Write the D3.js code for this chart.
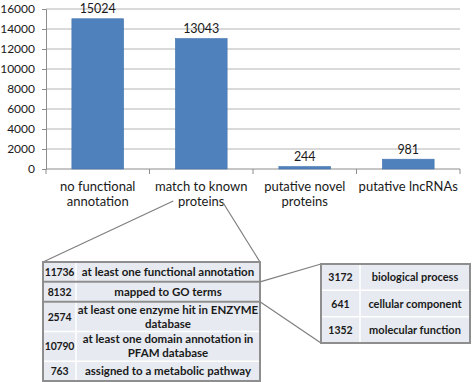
<!DOCTYPE html>
<html>
<head>
<meta charset="utf-8">
<script src="https://cdn.jsdelivr.net/npm/d3@7"></script>
<style>
  body { margin: 0; background: #fff; }
  svg text { font-family: Lato, "Open Sans", sans-serif; fill: #1a1a1a; }
</style>
</head>
<body>
<div id="chart"></div>
<script>
// Bar chart data
const categories = [["no functional", "annotation"], ["match to known", "proteins"], ["putative novel", "proteins"], ["putative lncRNAs"]];
const counts = [15024, 13043, 244, 981];
const yTicks = [0, 2000, 4000, 6000, 8000, 10000, 12000, 14000, 16000];

// Annotation breakdown of "match to known proteins"
const annotCounts = [11736, 8132, 2574, 10790, 763];
const annotLabels = [["at least one functional annotation"], ["mapped to GO terms"], ["at least one enzyme hit in ENZYME", "database"], ["at least one domain annotation in", "PFAM database"], ["assigned to a metabolic pathway"]];

// GO terms breakdown
const goCounts = [3172, 641, 1352];
const goLabels = ["biological process", "cellular component", "molecular function"];

const W = 472, H = 382;
const svg = d3.select("#chart").append("svg")
    .attr("width", W)
    .attr("height", H);

// Scales
const x = d3.scaleBand().domain(d3.range(categories.length)).range([46, 460]).paddingInner(0.5).paddingOuter(0.25);
const y = d3.scaleLinear().domain([0, 16000]).range([169, 9]);

// Gridlines
svg.append("g").selectAll("line")
    .data(yTicks.slice(1))
    .join("line")
    .attr("x1", 46).attr("x2", 460)
    .attr("y1", d => y(d)).attr("y2", d => y(d))
    .attr("stroke", "#b4b4b4").attr("stroke-width", 1);

// Y axis
const yAxis = svg.append("g")
    .attr("transform", "translate(46,0)")
    .call(d3.axisLeft(y).tickValues(yTicks).tickSize(4).tickPadding(7).tickFormat(d3.format("d")));
yAxis.select(".domain").attr("stroke", "#8c8c8c");
yAxis.selectAll(".tick line").attr("stroke", "#8c8c8c");
yAxis.selectAll("text").style("font-size", "12px").attr("fill", "#1a1a1a");

// X axis with ticks at category boundaries
const step = x.step();
const xAxis = svg.append("g");
xAxis.append("line")
    .attr("x1", 46).attr("x2", 460).attr("y1", y(0)).attr("y2", y(0))
    .attr("stroke", "#8c8c8c");
xAxis.selectAll("line.tk")
    .data(d3.range(categories.length + 1))
    .join("line").attr("class", "tk")
    .attr("x1", i => 46 + i * step).attr("x2", i => 46 + i * step)
    .attr("y1", y(0)).attr("y2", y(0) + 5)
    .attr("stroke", "#8c8c8c");

// Bars
svg.append("g").selectAll("rect")
    .data(counts)
    .join("rect")
    .attr("x", (d, i) => x(i))
    .attr("y", d => y(d))
    .attr("width", x.bandwidth())
    .attr("height", d => y(0) - y(d))
    .attr("fill", "#4f81bd")
    .attr("stroke", "#4372ad").attr("stroke-width", 0.6);

// Value labels
svg.append("g").selectAll("text")
    .data(counts)
    .join("text")
    .attr("x", (d, i) => x(i) + x.bandwidth() / 2)
    .attr("y", d => y(d) - 5.5)
    .attr("text-anchor", "middle")
    .style("font-size", "12.5px")
    .text(d => d);

// Category labels
const catG = svg.append("g").selectAll("text")
    .data(categories)
    .join("text")
    .attr("text-anchor", "middle")
    .style("font-size", "13px");
catG.selectAll("tspan")
    .data((d, i) => d.map(t => ({ t, i })))
    .join("tspan")
    .attr("x", d => x(d.i) + x.bandwidth() / 2)
    .attr("y", (d, j) => 191 + j * 15)
    .text(d => d.t);

// Table 1: annotations of "match to known proteins"
const t1 = { x0: 43, x1: 260, col: 76, y0: 262, y1: 381 };
const units = annotLabels.map(l => l.length === 1 ? 1 : 1.5);
const edges = [0];
units.forEach(u => edges.push(edges[edges.length - 1] + u));
const ry = d3.scaleLinear().domain([0, d3.sum(units)]).range([t1.y0, t1.y1]);

// connector lines from the category label to table 1
const cx = x(1) + x.bandwidth() / 2;
svg.append("line").attr("x1", cx - 28).attr("y1", 201).attr("x2", t1.x0).attr("y2", t1.y0)
    .attr("stroke", "#7f7f7f").attr("stroke-width", 1.2);
svg.append("line").attr("x1", cx + 22).attr("y1", 203).attr("x2", t1.x1).attr("y2", t1.y0)
    .attr("stroke", "#7f7f7f").attr("stroke-width", 1.2);

const tab1 = svg.append("g");
tab1.append("rect")
    .attr("x", t1.x0).attr("y", t1.y0).attr("width", t1.x1 - t1.x0).attr("height", t1.y1 - t1.y0)
    .attr("fill", "#e7ebf1");
// white inner separators
tab1.selectAll("line.sep")
    .data(edges.slice(1, -1))
    .join("line").attr("class", "sep")
    .attr("x1", t1.x0).attr("x2", t1.x1)
    .attr("y1", d => ry(d)).attr("y2", d => ry(d))
    .attr("stroke", "#fff").attr("stroke-width", 1.5);
tab1.append("line")
    .attr("x1", t1.col).attr("x2", t1.col).attr("y1", t1.y0).attr("y2", t1.y1)
    .attr("stroke", "#fff").attr("stroke-width", 1.5);
// gray group borders (row 1, row 2, rows 3-5)
tab1.selectAll("line.grp")
    .data([edges[1], edges[2]])
    .join("line").attr("class", "grp")
    .attr("x1", t1.x0).attr("x2", t1.x1)
    .attr("y1", d => ry(d)).attr("y2", d => ry(d))
    .attr("stroke", "#8e8e8e").attr("stroke-width", 2);
tab1.append("rect")
    .attr("x", t1.x0).attr("y", t1.y0).attr("width", t1.x1 - t1.x0).attr("height", t1.y1 - t1.y0)
    .attr("fill", "none").attr("stroke", "#8e8e8e").attr("stroke-width", 2);

tab1.selectAll("text.num")
    .data(annotCounts)
    .join("text").attr("class", "num")
    .attr("x", (t1.x0 + t1.col) / 2)
    .attr("y", (d, i) => (ry(edges[i]) + ry(edges[i + 1])) / 2 + 4)
    .attr("text-anchor", "middle")
    .style("font-size", "10.5px").style("font-weight", "bold").style("letter-spacing", "-0.2px")
    .text(d => d);
const lab1 = tab1.selectAll("text.lab")
    .data(annotLabels)
    .join("text").attr("class", "lab")
    .attr("text-anchor", "middle")
    .style("font-size", "11.5px").style("font-weight", "bold");
lab1.selectAll("tspan")
    .data((d, i) => d.map((t, j) => ({ t, i, j, n: d.length })))
    .join("tspan")
    .attr("x", (t1.col + t1.x1) / 2)
    .attr("y", d => (ry(edges[d.i]) + ry(edges[d.i + 1])) / 2 + 4 + (d.j - (d.n - 1) / 2) * 14)
    .text(d => d.t);

// Table 2: GO terms
const t2 = { x0: 321, x1: 470, col: 360, y0: 264, y1: 343 };
const gy = d3.scaleBand().domain(d3.range(goCounts.length)).range([t2.y0, t2.y1]);

svg.append("line").attr("x1", t1.x1).attr("y1", ry(edges[1])).attr("x2", t2.x0).attr("y2", t2.y0)
    .attr("stroke", "#7f7f7f").attr("stroke-width", 1.2);
svg.append("line").attr("x1", t1.x1).attr("y1", ry(edges[2])).attr("x2", t2.x0).attr("y2", t2.y1)
    .attr("stroke", "#7f7f7f").attr("stroke-width", 1.2);

const tab2 = svg.append("g");
tab2.append("rect")
    .attr("x", t2.x0).attr("y", t2.y0).attr("width", t2.x1 - t2.x0).attr("height", t2.y1 - t2.y0)
    .attr("fill", "#e7ebf1");
tab2.selectAll("line.sep")
    .data(d3.range(1, goCounts.length))
    .join("line").attr("class", "sep")
    .attr("x1", t2.x0).attr("x2", t2.x1)
    .attr("y1", i => gy(i)).attr("y2", i => gy(i))
    .attr("stroke", "#fff").attr("stroke-width", 1.5);
tab2.append("line")
    .attr("x1", t2.col).attr("x2", t2.col).attr("y1", t2.y0).attr("y2", t2.y1)
    .attr("stroke", "#fff").attr("stroke-width", 1.5);
tab2.append("rect")
    .attr("x", t2.x0).attr("y", t2.y0).attr("width", t2.x1 - t2.x0).attr("height", t2.y1 - t2.y0)
    .attr("fill", "none").attr("stroke", "#8e8e8e").attr("stroke-width", 2);

tab2.selectAll("text.num")
    .data(goCounts)
    .join("text").attr("class", "num")
    .attr("x", (t2.x0 + t2.col) / 2)
    .attr("y", (d, i) => gy(i) + gy.bandwidth() / 2 + 4)
    .attr("text-anchor", "middle")
    .style("font-size", "10.5px").style("font-weight", "bold")
    .text(d => d);
tab2.selectAll("text.lab")
    .data(goLabels)
    .join("text").attr("class", "lab")
    .attr("x", (t2.col + t2.x1) / 2)
    .attr("y", (d, i) => gy(i) + gy.bandwidth() / 2 + 4)
    .attr("text-anchor", "middle")
    .style("font-size", "11px").style("font-weight", "bold")
    .text(d => d);
</script>
</body>
</html>
